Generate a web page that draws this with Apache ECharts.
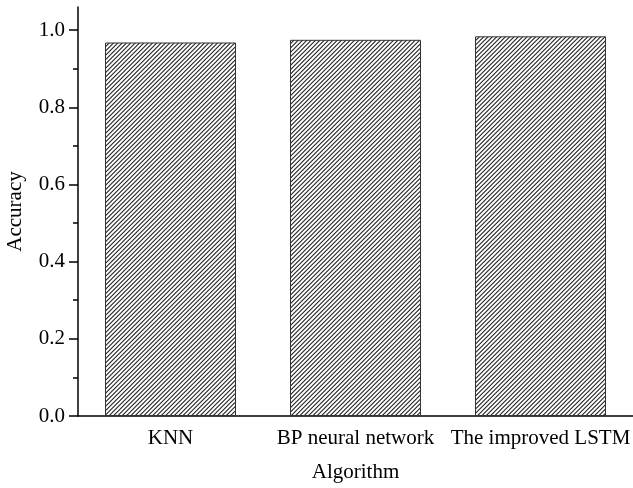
<!DOCTYPE html>
<html>
<head>
<meta charset="utf-8">
<script src="https://cdn.jsdelivr.net/npm/echarts@6/dist/echarts.min.js"></script>
<style>
  html, body { margin: 0; padding: 0; background: #fff; }
  #chart { width: 633px; height: 488px; }
</style>
</head>
<body>
<div id="chart"></div>
<script>
var algorithms = ['KNN', 'BP neural network', 'The improved LSTM'];
var accuracy = [0.968, 0.975, 0.984];
var yMajorTicks = [0, 0.2, 0.4, 0.6, 0.8, 1.0];
var yMinorTicks = [0.1, 0.3, 0.5, 0.7, 0.9];

var font = '"Liberation Serif", "Times New Roman", serif';

// "/" hatch tile: 13px square holding 3 lines, so the spacing is about 4.3px
function makeHatch() {
  var n = 13, lines = 3;
  var c = document.createElement('canvas');
  c.width = n;
  c.height = n;
  var ctx = c.getContext('2d');
  ctx.fillStyle = '#fff';
  ctx.fillRect(0, 0, n, n);
  ctx.strokeStyle = '#222';
  ctx.lineWidth = 1.1;
  ctx.beginPath();
  for (var k = -1; k <= 2 * lines + 1; k++) {
    var d = k * n / lines + 0.5;
    ctx.moveTo(d + 2, -2);
    ctx.lineTo(-2, d + 2);
  }
  ctx.stroke();
  return c;
}

var chart = echarts.init(document.getElementById('chart'));
var axisLine = { show: true, lineStyle: { color: '#000', width: 1.5 } };

var option = {
  backgroundColor: '#fff',
  animation: false,
  grid: { left: 78, right: 0, top: 7, bottom: 72, outerBoundsMode: 'none' },
  xAxis: [{
    type: 'category',
    data: algorithms,
    name: 'Algorithm',
    nameLocation: 'middle',
    nameGap: 46,
    nameTextStyle: { fontFamily: font, fontSize: 21, color: '#000' },
    axisLine: axisLine,
    axisTick: { alignWithLabel: true, length: 9, lineStyle: { color: '#000', width: 1.5 } },
    axisLabel: { fontFamily: font, fontSize: 21, color: '#000', margin: 12, interval: 0 },
    splitLine: { show: false }
  }, {
    type: 'category',
    data: algorithms,
    position: 'bottom',
    axisLine: { show: false },
    axisTick: { length: 5, lineStyle: { color: '#000', width: 1.5 } },
    axisLabel: { show: false },
    splitLine: { show: false }
  }],
  yAxis: [{
    type: 'value',
    position: 'left',
    min: 0,
    max: 1.06,
    name: 'Accuracy',
    nameLocation: 'middle',
    nameGap: 52,
    nameTextStyle: { fontFamily: font, fontSize: 21, color: '#000' },
    axisLine: axisLine,
    axisTick: { show: true, customValues: yMajorTicks, length: 9, lineStyle: { color: '#000', width: 1.5 } },
    axisLabel: {
      customValues: yMajorTicks,
      fontFamily: font, fontSize: 21, color: '#000', margin: 13,
      formatter: function (v) { return v.toFixed(1); }
    },
    splitLine: { show: false }
  }, {
    type: 'value',
    position: 'left',
    min: 0,
    max: 1.06,
    axisLine: { show: false },
    axisTick: { show: true, customValues: yMinorTicks, length: 5, lineStyle: { color: '#000', width: 1.5 } },
    axisLabel: { show: false },
    splitLine: { show: false }
  }],
  series: [{
    type: 'bar',
    xAxisIndex: 0,
    yAxisIndex: 0,
    data: accuracy,
    barWidth: 131,
    itemStyle: {
      color: { image: makeHatch(), repeat: 'repeat' },
      borderColor: '#333',
      borderWidth: 1
    }
  }]
};

chart.setOption(option);
</script>
</body>
</html>
